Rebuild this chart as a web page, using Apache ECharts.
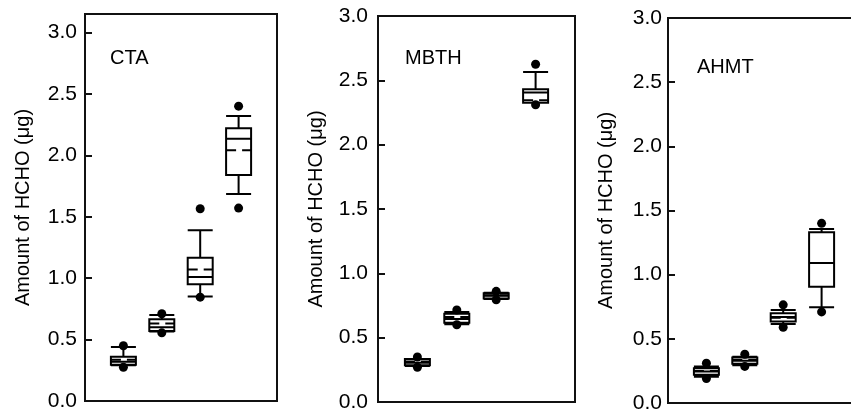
<!DOCTYPE html>
<html>
<head>
<meta charset="utf-8">
<script src="https://cdn.jsdelivr.net/npm/echarts@6/dist/echarts.min.js"></script>
<style>
  html, body { margin: 0; padding: 0; background: #fff; }
  #chart { width: 851px; height: 412px; }
</style>
</head>
<body>
<div id="chart"></div>
<script>
// x slots 0..5, the four boxes sit on slots 1..4
const categories = ['0', '1', '2', '3', '4', '5'];
const yTicks = [0, 0.5, 1.0, 1.5, 2.0, 2.5, 3.0];
const panelNames = ['CTA', 'MBTH', 'AHMT'];

// [lower whisker, Q1, median, Q3, upper whisker]
const ctaBoxes = [
  [0.29, 0.295, 0.32, 0.36, 0.44],
  [0.565, 0.57, 0.60, 0.665, 0.70],
  [0.85, 0.95, 1.01, 1.165, 1.39],
  [1.685, 1.84, 2.135, 2.22, 2.32]
];
const ctaMeans = [0.335, 0.63, 1.07, 2.04];
const ctaOutliers = [[1, 0.45], [1, 0.275], [2, 0.71], [2, 0.555], [3, 1.565], [3, 0.845], [4, 2.40], [4, 1.57]];

const mbthBoxes = [
  [0.28, 0.285, 0.305, 0.335, 0.335],
  [0.605, 0.615, 0.645, 0.685, 0.70],
  [0.80, 0.805, 0.825, 0.845, 0.85],
  [2.325, 2.325, 2.405, 2.43, 2.565]
];
const mbthMeans = [0.315, 0.66, 0.83, 2.345];
const mbthOutliers = [[1, 0.35], [1, 0.27], [2, 0.715], [2, 0.60], [3, 0.86], [3, 0.795], [4, 2.625], [4, 2.31]];

const ahmtBoxes = [
  [0.205, 0.22, 0.245, 0.27, 0.285],
  [0.295, 0.305, 0.33, 0.355, 0.36],
  [0.615, 0.635, 0.67, 0.70, 0.725],
  [0.746, 0.905, 1.09, 1.33, 1.355]
];
const ahmtMeans = [0.25, 0.335, 0.665, 1.09];
const ahmtOutliers = [[1, 0.31], [1, 0.19], [2, 0.38], [2, 0.285], [3, 0.765], [3, 0.59], [4, 1.40], [4, 0.71]];

const yMax = [3.15, 3.0, 3.0];
const boxes = [ctaBoxes, mbthBoxes, ahmtBoxes];
const means = [ctaMeans, mbthMeans, ahmtMeans];
const outliers = [ctaOutliers, mbthOutliers, ahmtOutliers];

const font = 'Liberation Sans, Arial, sans-serif';
const grids = [
  {left: 85, top: 14, width: 192, height: 387},
  {left: 378, top: 16, width: 197, height: 386},
  {left: 668, top: 18, width: 192, height: 385}
];
const labelMargin = [8, 10, 6];
const namePos = [[110, 48], [405, 48], [697, 57]];

const empty = ['-', '-', '-', '-', '-'];

let option = {
  backgroundColor: '#fff',
  animation: false,
  textStyle: {fontFamily: font, color: '#000'},
  title: panelNames.map((n, i) => ({
    text: n,
    left: namePos[i][0],
    top: namePos[i][1],
    padding: 0,
    textStyle: {fontSize: 20, fontWeight: 'normal', color: '#000', fontFamily: font}
  })),
  grid: grids.map(g => Object.assign({
    show: true,
    borderColor: '#111',
    borderWidth: 2,
    backgroundColor: 'transparent',
    outerBoundsMode: 'none'
  }, g)),
  xAxis: grids.map((g, i) => ({
    type: 'category',
    gridIndex: i,
    data: categories,
    boundaryGap: false,
    axisLine: {show: false},
    axisTick: {show: false},
    axisLabel: {show: false},
    splitLine: {show: false}
  })),
  yAxis: grids.map((g, i) => ({
    type: 'value',
    gridIndex: i,
    min: 0,
    max: yMax[i],
    interval: 0.5,
    name: 'Amount of HCHO (μg)',
    nameLocation: 'middle',
    nameGap: 52,
    nameTextStyle: {fontSize: 20, color: '#000', fontFamily: font},
    axisLine: {show: true, lineStyle: {color: '#111', width: 2}},
    axisTick: {
      show: true, inside: true, length: 7,
      customValues: yTicks,
      lineStyle: {color: '#111', width: 2}
    },
    axisLabel: {
      fontSize: 21, color: '#000', margin: labelMargin[i],
      customValues: yTicks,
      formatter: v => v.toFixed(1)
    },
    splitLine: {show: false}
  })),
  series: []
};

for (let i = 0; i < 3; i++) {
  option.series.push({
    type: 'boxplot',
    xAxisIndex: i,
    yAxisIndex: i,
    boxWidth: [25, 25],
    itemStyle: {color: '#fff', borderColor: '#000', borderWidth: 2},
    data: [empty].concat(boxes[i], [empty])
  });
  option.series.push({
    type: 'custom',
    xAxisIndex: i,
    yAxisIndex: i,
    z: 5,
    data: means[i].map((m, k) => [k + 1, m]),
    renderItem: (params, api) => {
      const p = api.coord([api.value(0), api.value(1)]);
      return {
        type: 'line',
        shape: {x1: p[0] - 12.5, y1: p[1], x2: p[0] + 12.5, y2: p[1]},
        style: {stroke: '#000', lineWidth: 2, lineDash: [10, 6]}
      };
    }
  });
  option.series.push({
    type: 'scatter',
    xAxisIndex: i,
    yAxisIndex: i,
    z: 6,
    symbolSize: 9,
    itemStyle: {color: '#000', opacity: 1},
    data: outliers[i]
  });
}

var myChart = echarts.init(document.getElementById('chart'));
myChart.setOption(option);
</script>
</body>
</html>
